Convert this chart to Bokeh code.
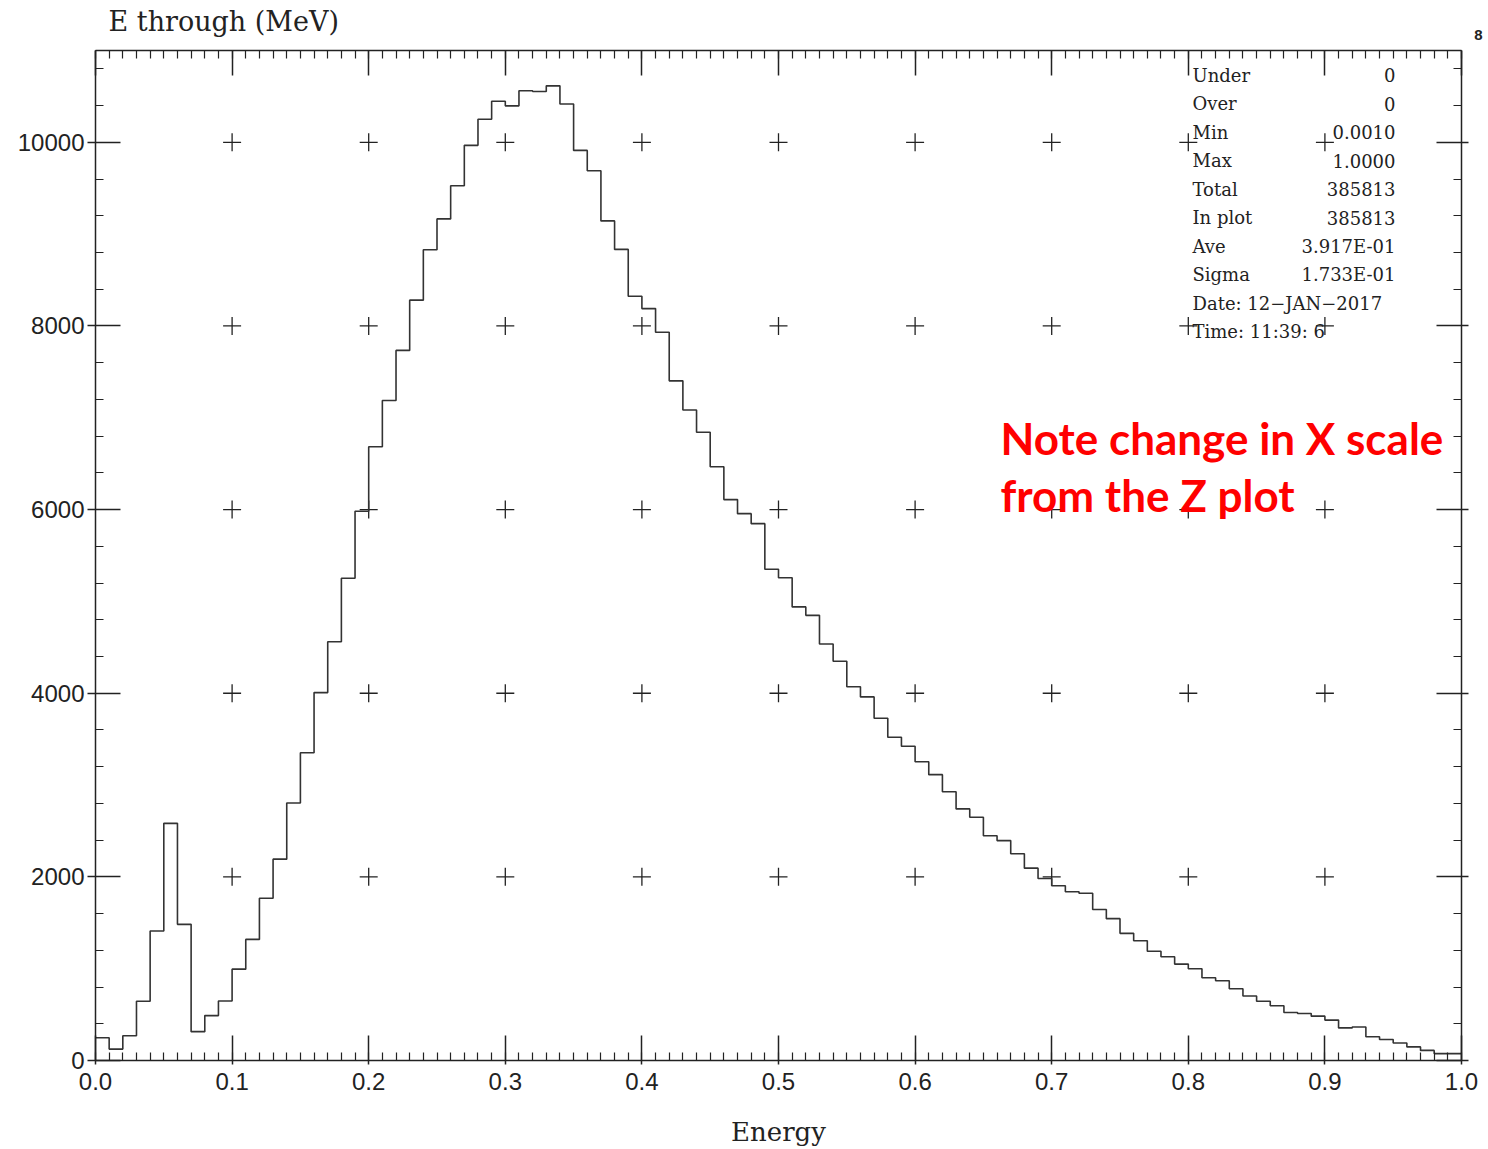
from bokeh.plotting import figure
from bokeh.models import Range1d, LinearAxis, FixedTicker, PrintfTickFormatter, Label, Title
from bokeh.embed import file_html
from bokeh.resources import INLINE

# ---------------- data ----------------
bin_edges = [round(i * 0.01, 2) for i in range(101)]
counts = [
    248, 124, 270, 645, 1410, 2583, 1483, 314, 489, 648,
    995, 1319, 1767, 2193, 2805, 3352, 4007, 4561, 5253, 5982,
    6685, 7188, 7734, 8281, 8830, 9166, 9527, 9967, 10251, 10448,
    10397, 10561, 10554, 10615, 10418, 9912, 9691, 9144, 8834, 8324,
    8189, 7931, 7402, 7085, 6842, 6467, 6109, 5956, 5847, 5350,
    5257, 4940, 4848, 4536, 4348, 4070, 3960, 3727, 3520, 3422,
    3253, 3113, 2927, 2740, 2650, 2448, 2395, 2252, 2095, 1982,
    1904, 1838, 1822, 1645, 1545, 1385, 1305, 1190, 1130, 1050,
    1000, 902, 868, 782, 703, 645, 596, 523, 512, 483,
    440, 355, 365, 258, 228, 190, 148, 110, 75, 75,
]
x_ticks = [0.0, 0.1, 0.2, 0.3, 0.4, 0.5, 0.6, 0.7, 0.8, 0.9, 1.0]
y_ticks = [0, 2000, 4000, 6000, 8000, 10000]
y_minor = list(range(0, 11001, 400))
title_text = "E through (MeV)"
x_label = "Energy"
stats_names = ["Under", "Over", "Min", "Max", "Total", "In plot", "Ave", "Sigma"]
stats_values = ["0", "0", "0.0010", "1.0000", "385813", "385813", "3.917E-01", "1.733E-01"]
date_line = "Date: 12\u2212JAN\u22122017"
time_line = "Time: 11:39: 6"
note_lines = ["Note change in X scale", "from the Z plot"]
page_number = "8"

# ---------------- layout helpers ----------------
FL, FR, FT, FB = 95, 1461, 50, 1061
YMAX = 11000


def dx(px):
    return (px - FL) / (FR - FL)


def dy(py):
    return (FB - py) * YMAX / (FB - FT)


INK = "#222222"

p = figure(width=1488, height=1149, output_backend="svg", toolbar_location=None,
           x_range=Range1d(0, 1), y_range=Range1d(0, YMAX),
           min_border_left=FL, min_border_right=1488 - FR,
           min_border_top=FT, min_border_bottom=1149 - FB)
p.outline_line_color = None
p.xgrid.visible = False
p.ygrid.visible = False
p.background_fill_color = "white"
p.border_fill_color = "white"

xticker = FixedTicker(ticks=x_ticks, minor_ticks=bin_edges)
yticker = FixedTicker(ticks=y_ticks, minor_ticks=y_minor)


def style_axis(ax, labels=True, tick_out=0):
    ax.axis_line_color = INK
    ax.axis_line_width = 1.5
    ax.major_tick_line_color = INK
    ax.major_tick_line_width = 1.5
    ax.major_tick_in = 25
    ax.major_tick_out = tick_out
    ax.minor_tick_line_color = INK
    ax.minor_tick_line_width = 1.2
    ax.minor_tick_in = 8
    ax.minor_tick_out = 0
    if labels:
        ax.major_label_text_font = "Liberation Sans"
        ax.major_label_text_font_size = "24px"
        ax.major_label_text_color = INK
    else:
        ax.major_label_text_font_size = "1px"
        ax.major_label_text_color = None
        ax.major_label_standoff = 0


xb = p.xaxis[0]
xb.ticker = xticker
xb.formatter = PrintfTickFormatter(format="%.1f")
style_axis(xb, True, tick_out=4)
xb.major_label_standoff = 8
xb.axis_label = x_label
xb.axis_label_text_font = "DejaVu Serif"
xb.axis_label_text_font_size = "26px"
xb.axis_label_text_font_style = "normal"
xb.axis_label_text_color = INK
xb.axis_label_standoff = 24

yl = p.yaxis[0]
yl.ticker = yticker
style_axis(yl, True, tick_out=8)
yl.major_label_standoff = 3

xt = LinearAxis(ticker=xticker)
style_axis(xt, False)
p.add_layout(xt, "above")

yr = LinearAxis(ticker=yticker)
style_axis(yr, False, tick_out=7)
p.add_layout(yr, "right")

# page number (closest to the frame) and main title (farthest)
p.add_layout(Title(text=page_number, align="right", offset=-21, standoff=22,
                   text_font="Liberation Sans", text_font_size="15px",
                   text_font_style="bold", text_color=INK), "above")
p.title.text = title_text
p.title.align = "left"
p.title.offset = 13
p.title.standoff = -40
p.title.text_font = "DejaVu Serif"
p.title.text_font_size = "27px"
p.title.text_font_style = "normal"
p.title.text_color = INK

# grid crosses at tick intersections
cx = [x for x in x_ticks[1:-1] for _ in y_ticks[1:]]
cy = [y for _ in x_ticks[1:-1] for y in y_ticks[1:]]
p.scatter(cx, cy, marker="cross", size=18, line_color=INK, line_width=1.3)

# histogram
p.step(bin_edges, counts + [counts[-1]], mode="after", line_color="#333333", line_width=1.6)

# stats box
for i, (nm, val) in enumerate(zip(stats_names, stats_values)):
    row_y = 75 + i * 28.5
    p.add_layout(Label(x=dx(1192), y=dy(row_y), text=nm, text_font="DejaVu Serif",
                       text_font_size="18px", text_color=INK, text_baseline="middle"))
    p.add_layout(Label(x=dx(1395), y=dy(row_y), text=val, text_font="DejaVu Serif",
                       text_font_size="18px", text_color=INK, text_baseline="middle",
                       text_align="right"))
for j, line in enumerate([date_line, time_line]):
    row_y = 75 + (len(stats_names) + j) * 28.5
    p.add_layout(Label(x=dx(1192), y=dy(row_y), text=line, text_font="DejaVu Serif",
                       text_font_size="18px", text_color=INK, text_baseline="middle"))

# red note
for k, line in enumerate(note_lines):
    p.add_layout(Label(x=dx(1000), y=dy(438 + k * 57), text=line, text_font="Lato",
                       text_font_size="44px", text_font_style="bold", text_color="#ff0000",
                       text_baseline="middle"))

open("out.html", "w").write(file_html(p, INLINE))
